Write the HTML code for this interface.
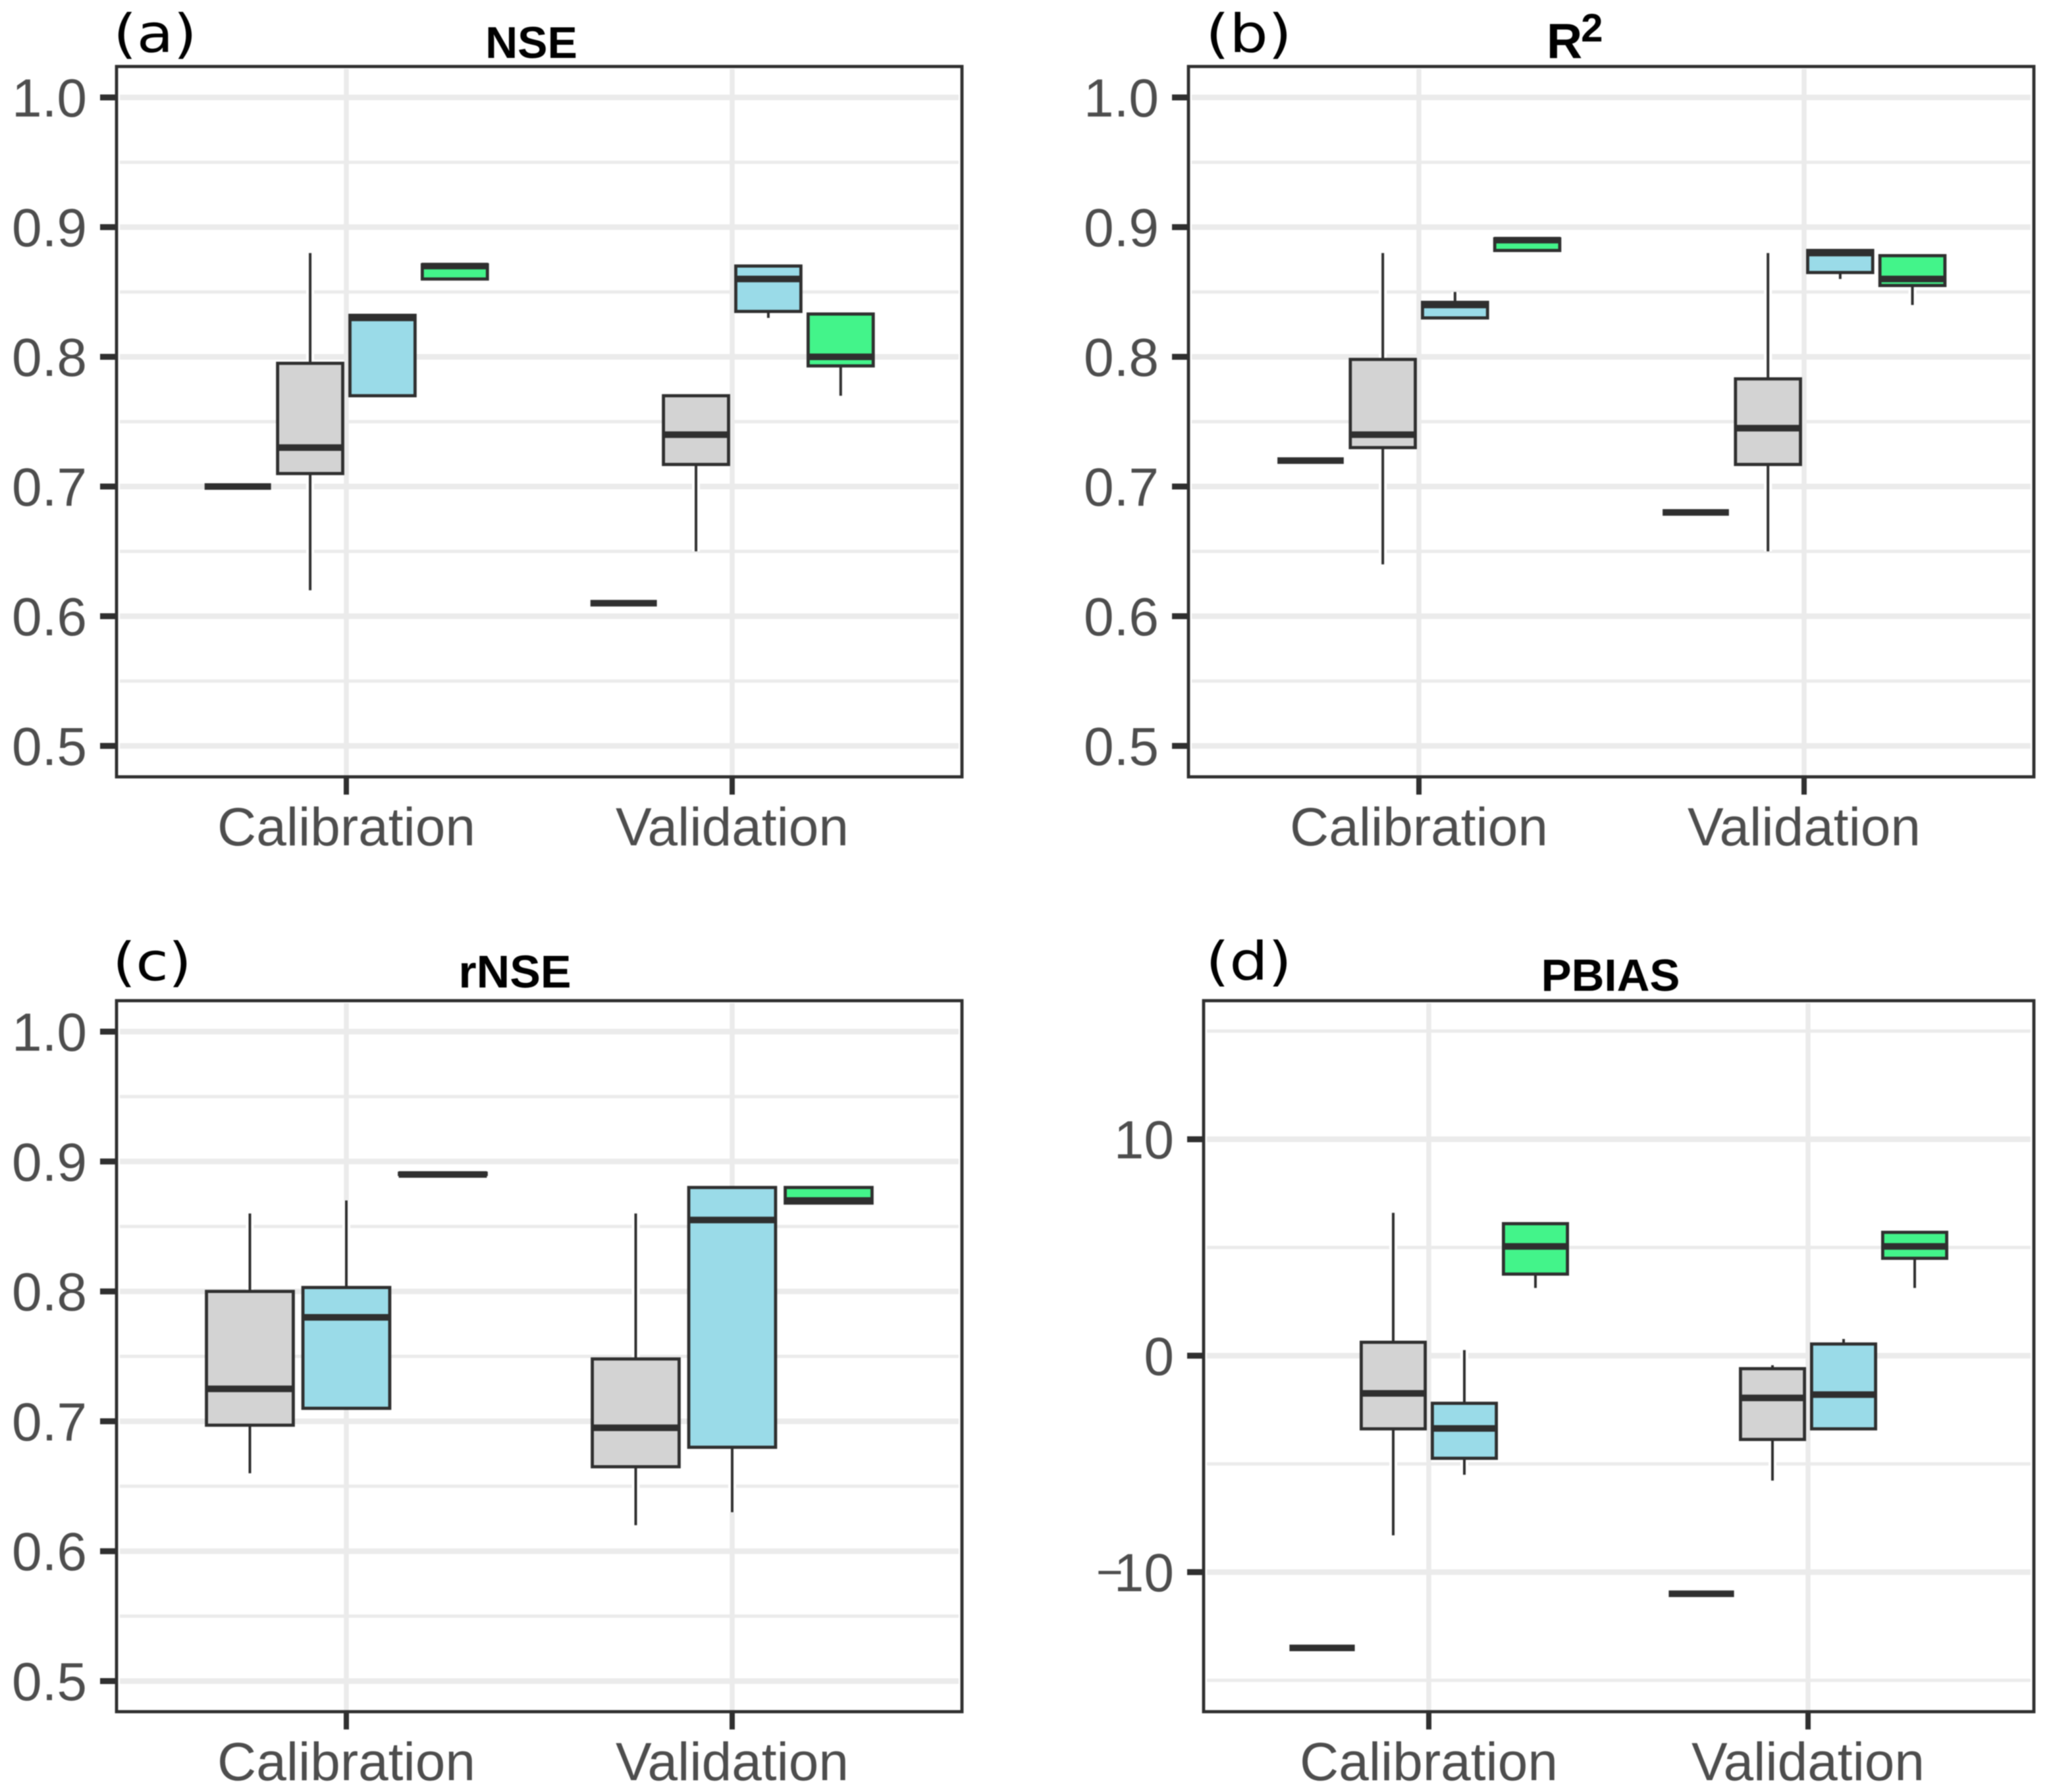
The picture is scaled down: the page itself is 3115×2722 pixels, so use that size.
<!DOCTYPE html>
<html>
<head>
<meta charset="utf-8">
<title>Model performance boxplots</title>
<style>
html,body{margin:0;padding:0;background:#fff;}
svg{display:block;filter:blur(0.7px);}
.panel-letter{font-family:"DejaVu Sans",sans-serif;font-size:80px;fill:#000;}
.panel-title{font-family:"Liberation Sans",sans-serif;font-weight:bold;font-size:68px;fill:#000;}
.tick-text{font-family:"Liberation Sans",sans-serif;font-size:82px;fill:#4d4d4d;}
</style>
</head>
<body>
<svg id="figure" width="3115" height="2722" viewBox="0 0 3115 2722" xmlns="http://www.w3.org/2000/svg">
  <rect x="0" y="0" width="3115" height="2722" fill="#ffffff"/>
  <g id="panel-a"></g>
  <g id="panel-b"></g>
  <g id="panel-c"></g>
  <g id="panel-d"></g>
  <text class="panel-letter" x="172" y="79" textLength="127" lengthAdjust="spacingAndGlyphs">(a)</text>
  <text class="panel-letter" x="1831" y="79" textLength="131" lengthAdjust="spacingAndGlyphs">(b)</text>
  <text class="panel-letter" x="171" y="1489" textLength="120" lengthAdjust="spacingAndGlyphs">(c)</text>
  <text class="panel-letter" x="1831" y="1488" textLength="131" lengthAdjust="spacingAndGlyphs">(d)</text>
  <text class="panel-title" x="807" y="88" text-anchor="middle">NSE</text>
  <text class="panel-title" x="2349" y="88" style="font-size:75px">R<tspan dx="-2" dy="-25" style="font-size:60px">2</tspan></text>
  <text class="panel-title" x="782" y="1500" text-anchor="middle" style="font-size:70px">rNSE</text>
  <text class="panel-title" x="2446" y="1505" text-anchor="middle" style="font-size:69px">PBIAS</text>
</svg>
<script>
// ---- chart data: each box is [whisker low, q1, median, q3, whisker high] ----
const categories = ['Calibration', 'Validation'];
const fourGroupFills = ['#d3d3d3', '#d3d3d3', '#9adbe8', '#43f48a'];
const threeGroupFills = ['#d3d3d3', '#9adbe8', '#43f48a'];

const unitTicks = [0.5, 0.6, 0.7, 0.8, 0.9, 1.0];
const unitTickLabels = ['0.5', '0.6', '0.7', '0.8', '0.9', '1.0'];
const unitMinorTicks = [0.55, 0.65, 0.75, 0.85, 0.95];
const pbiasTicks = [-10, 0, 10];
const pbiasTickLabels = ['\u221210', '0', '10'];
const pbiasMinorTicks = [-15, -5, 5, 15];

const nseCalibration = [
  [0.70, 0.70, 0.70, 0.70, 0.70],
  [0.62, 0.71, 0.73, 0.795, 0.88],
  [0.77, 0.77, 0.83, 0.832, 0.832],
  [0.86, 0.86, 0.87, 0.871, 0.871]
];
const nseValidation = [
  [0.61, 0.61, 0.61, 0.61, 0.61],
  [0.65, 0.717, 0.74, 0.77, 0.77],
  [0.83, 0.835, 0.86, 0.87, 0.87],
  [0.77, 0.793, 0.80, 0.833, 0.833]
];
const r2Calibration = [
  [0.72, 0.72, 0.72, 0.72, 0.72],
  [0.64, 0.73, 0.74, 0.798, 0.88],
  [0.83, 0.83, 0.84, 0.842, 0.85],
  [0.882, 0.882, 0.89, 0.891, 0.891]
];
const r2Validation = [
  [0.68, 0.68, 0.68, 0.68, 0.68],
  [0.65, 0.717, 0.745, 0.783, 0.88],
  [0.86, 0.865, 0.88, 0.882, 0.882],
  [0.84, 0.855, 0.86, 0.878, 0.878]
];
const rnseCalibration = [
  [0.66, 0.697, 0.725, 0.80, 0.86],
  [0.71, 0.71, 0.78, 0.803, 0.87],
  [0.89, 0.89, 0.89, 0.891, 0.891]
];
const rnseValidation = [
  [0.62, 0.665, 0.695, 0.748, 0.86],
  [0.63, 0.68, 0.855, 0.88, 0.88],
  [0.868, 0.868, 0.87, 0.88, 0.88]
];
const pbiasCalibration = [
  [-13.5, -13.5, -13.5, -13.5, -13.5],
  [-8.3, -3.38, -1.74, 0.62, 6.6],
  [-5.5, -4.74, -3.36, -2.2, 0.26],
  [3.13, 3.77, 5.05, 6.1, 6.1]
];
const pbiasValidation = [
  [-11, -11, -11, -11, -11],
  [-5.77, -3.87, -1.95, -0.6, -0.44],
  [-3.38, -3.38, -1.8, 0.54, 0.77],
  [3.13, 4.5, 5.05, 5.7, 5.7]
];

const NS = 'http://www.w3.org/2000/svg';
const DARK = '#2f2f2f';
const GRID = '#ebebeb';

function shape(parent, tag, attrs) {
  const el = document.createElementNS(NS, tag);
  Object.keys(attrs).forEach(function (k) { el.setAttribute(k, attrs[k]); });
  parent.appendChild(el);
  return el;
}

function drawPanel(cfg) {
  const g = document.getElementById(cfg.id);
  const b = cfg.box;
  const yScale = function (v) {
    return cfg.rangeLow + (v - cfg.domainLow) * (cfg.rangeHigh - cfg.rangeLow) / (cfg.domainHigh - cfg.domainLow);
  };
  const unit = cfg.catHigh - cfg.catLow;
  const xScale = function (i) { return cfg.catLow + i * unit; };
  const groupCount = cfg.fills.length;
  const step = 0.75 * unit / groupCount;
  const boxWidth = step * 0.9;

  cfg.minor.forEach(function (v) {
    const el = shape(g, 'line', {x1: b.left + 5, x2: b.right - 5, y1: yScale(v), y2: yScale(v), stroke: GRID, 'stroke-width': 5});
    
    
  });
  cfg.ticks.forEach(function (v) {
    const el = shape(g, 'line', {x1: b.left + 5, x2: b.right - 5, y1: yScale(v), y2: yScale(v), stroke: GRID, 'stroke-width': 8.5});
    
    
  });
  categories.forEach(function (c, i) {
    const el = shape(g, 'line', {x1: xScale(i), x2: xScale(i), y1: b.top + 4, y2: b.bottom - 2, stroke: GRID, 'stroke-width': 7.5});
    
    
  });

  cfg.series.forEach(function (boxes, i) {
    boxes.forEach(function (d, j) {
      const cx = xScale(i) + (j - (groupCount - 1) / 2) * step;
      const x0 = cx - boxWidth / 2;
      const halo = shape(g, 'line', {x1: cx, x2: cx, y1: yScale(d[0]), y2: yScale(d[4]), stroke: '#ffffff', 'stroke-width': 12});
      
      
      const whisker = shape(g, 'line', {x1: cx, x2: cx, y1: yScale(d[0]), y2: yScale(d[4]), stroke: DARK, 'stroke-width': 4});
      
      
      const rect = shape(g, 'rect', {x: x0, y: yScale(d[3]), width: boxWidth, height: yScale(d[1]) - yScale(d[3]), fill: cfg.fills[j], stroke: DARK, 'stroke-width': 4.8});
      
      
      const median = shape(g, 'line', {x1: x0 - 1, x2: x0 + boxWidth + 1, y1: yScale(d[2]), y2: yScale(d[2]), stroke: DARK, 'stroke-width': 10});
      
      
    });
  });

  const frame = shape(g, 'rect', {x: b.left, y: b.top, width: b.right - b.left, height: b.bottom - b.top, fill: 'none', stroke: DARK, 'stroke-width': 4.8});
  
  

  cfg.ticks.forEach(function (v, i) {
    const y = yScale(v);
    const tick = shape(g, 'line', {x1: b.left - 25, x2: b.left, y1: y, y2: y, stroke: DARK, 'stroke-width': 9});
    
    
    const label = shape(g, 'text', {x: b.left - 45, y: y + 29, 'text-anchor': 'end', 'class': 'tick-text'});
    const text = cfg.tickLabels[i];
    if (text.charAt(0) === '\u2212') {
      const minus = shape(label, 'tspan', {dy: -5, style: 'font-size:70px'});
      minus.textContent = text.charAt(0);
      const digits = shape(label, 'tspan', {dx: -14, dy: 5});
      digits.textContent = text.slice(1);
    } else {
      label.textContent = text;
    }
    
    
  });
  categories.forEach(function (c, i) {
    const x = xScale(i);
    const tick = shape(g, 'line', {x1: x, x2: x, y1: b.bottom, y2: b.bottom + 27, stroke: DARK, 'stroke-width': 8});
    
    
    const label = shape(g, 'text', {x: x, y: b.bottom + 104, 'text-anchor': 'middle', 'class': 'tick-text'});
    label.textContent = c;
    
    
  });
}

drawPanel({id: 'panel-a', box: {left: 177, right: 1461, top: 101, bottom: 1180}, catLow: 526, catHigh: 1112,
  domainLow: 0.5, domainHigh: 1.0, rangeLow: 1133, rangeHigh: 148,
  ticks: unitTicks, tickLabels: unitTickLabels, minor: unitMinorTicks,
  fills: fourGroupFills, series: [nseCalibration, nseValidation]});
drawPanel({id: 'panel-b', box: {left: 1805, right: 3089, top: 101, bottom: 1180}, catLow: 2155, catHigh: 2740,
  domainLow: 0.5, domainHigh: 1.0, rangeLow: 1133, rangeHigh: 148,
  ticks: unitTicks, tickLabels: unitTickLabels, minor: unitMinorTicks,
  fills: fourGroupFills, series: [r2Calibration, r2Validation]});
drawPanel({id: 'panel-c', box: {left: 177, right: 1461, top: 1520, bottom: 2600}, catLow: 526, catHigh: 1112,
  domainLow: 0.5, domainHigh: 1.0, rangeLow: 2553.5, rangeHigh: 1567,
  ticks: unitTicks, tickLabels: unitTickLabels, minor: unitMinorTicks,
  fills: threeGroupFills, series: [rnseCalibration, rnseValidation]});
drawPanel({id: 'panel-d', box: {left: 1828, right: 3089, top: 1520, bottom: 2600}, catLow: 2170, catHigh: 2746,
  domainLow: -10, domainHigh: 10, rangeLow: 2388, rangeHigh: 1730.5,
  ticks: pbiasTicks, tickLabels: pbiasTickLabels, minor: pbiasMinorTicks,
  fills: fourGroupFills, series: [pbiasCalibration, pbiasValidation]});
</script>
</body>
</html>
